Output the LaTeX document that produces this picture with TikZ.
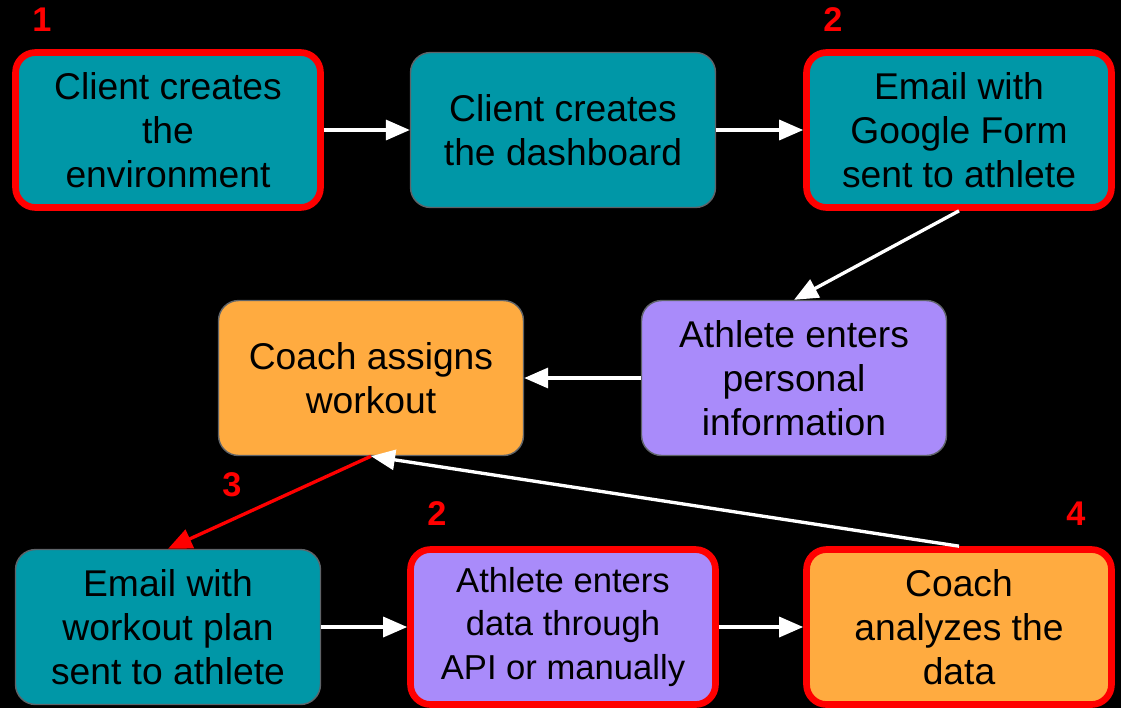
\documentclass[tikz,border=0pt]{standalone}
\usepackage{fontspec}
\setmainfont{Liberation Sans}
\usetikzlibrary{arrows.meta}
\definecolor{tealbox}{HTML}{0097A7}
\definecolor{lilacbox}{HTML}{A98BFA}
\definecolor{orangebox}{HTML}{FFAB40}
\definecolor{edgegray}{HTML}{5F6368}

\begin{document}
\begin{tikzpicture}[x=0.02cm, y=-0.02cm,
    box/.style={rectangle, rounded corners=0.4cm, draw=edgegray, line width=0.8pt,
      minimum width=6.1cm, minimum height=3.1cm, align=center, text=black,
      font=\fontsize{21.2}{25}\selectfont},
    marked/.style={draw=red, line width=3.8pt},
    small text/.style={font=\fontsize{19.7}{24.5}\selectfont},
    step label/.style={text=red, font=\bfseries\fontsize{19.5}{21}\selectfont},
    flow/.style={draw=white, line width=1.9pt, -{Triangle[length=0.48cm, width=0.4cm]}},
    redflow/.style={flow, draw=red, fill=red}]
  \fill[black] (0,0) rectangle (1121,708);
  \useasboundingbox (0,0) rectangle (1121,708);
  % first row
  \node[box, fill=tealbox, marked] (env) at (168,130) {Client creates\\the\\environment};
  \node[box, fill=tealbox] (dash) at (563,130) {Client creates\\the dashboard};
  \node[box, fill=tealbox, marked] (form) at (959,130) {Email with\\Google Form\\sent to athlete};
  % second row
  \node[box, fill=lilacbox] (personal) at (794,378) {Athlete enters\\personal\\information};
  \node[box, fill=orangebox] (assign) at (371,378) {Coach assigns\\workout};
  % third row
  \node[box, fill=tealbox] (wplan) at (168,627) {Email with\\workout plan\\sent to athlete};
  \node[box, fill=lilacbox, marked, small text] (data) at (563,627) {Athlete enters\\data through\\API or manually};
  \node[box, fill=orangebox, marked] (analyze) at (959,627) {Coach\\analyzes the\\data};
  % step numbers
  \node[step label] (s1) at (42,20) {1};
  \node[step label] (s2) at (833,20) {2};
  \node[step label] (s3) at (232,485) {3};
  \node[step label] (s2b) at (437,514) {2};
  \node[step label] (s4) at (1076,514) {4};
  % connectors
  \draw[flow] (env.east) -- (dash.west);
  \draw[flow] (dash.east) -- (form.west);
  \draw[flow] (form.south) -- (personal.north);
  \draw[flow] (personal.west) -- (assign.east);
  \draw[redflow] (assign.south) -- (wplan.north);
  \draw[flow] (wplan.east) -- (data.west);
  \draw[flow] (data.east) -- (analyze.west);
  \draw[flow] (analyze.north) -- (assign.south);
\end{tikzpicture}
\end{document}
